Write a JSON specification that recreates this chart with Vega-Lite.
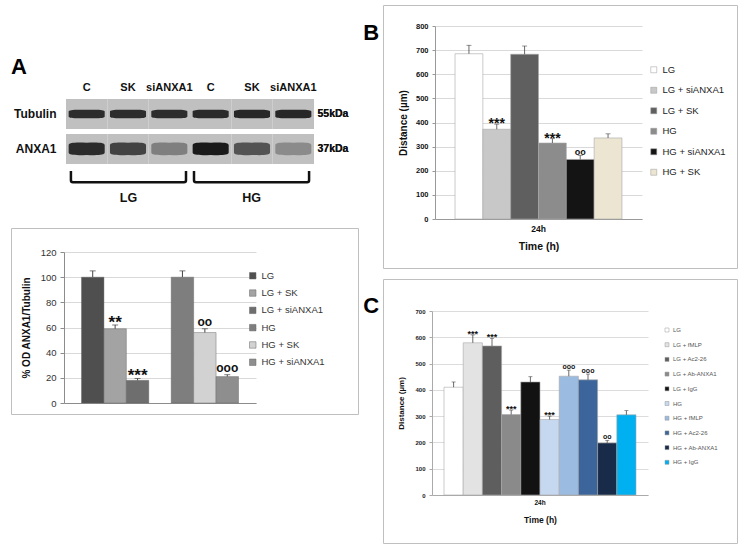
{
  "$schema": "https://vega.github.io/schema/vega-lite/v6.json",
  "background": "white",
  "padding": {"left": 10, "top": 4, "right": 0, "bottom": 0},
  "config": {
    "font": "Liberation Sans",
    "view": {"stroke": "#bfbfbf", "strokeWidth": 1}
  },
  "datasets": {
    "blot": [
      {"lane": "LG|C", "row": "Tubulin", "intensity": 0.85},
      {"lane": "LG|SK", "row": "Tubulin", "intensity": 0.85},
      {"lane": "LG|siANXA1", "row": "Tubulin", "intensity": 0.85},
      {"lane": "HG|C", "row": "Tubulin", "intensity": 0.86},
      {"lane": "HG|SK", "row": "Tubulin", "intensity": 0.88},
      {"lane": "HG|siANXA1", "row": "Tubulin", "intensity": 0.88},
      {"lane": "LG|C", "row": "ANXA1", "intensity": 0.85},
      {"lane": "LG|SK", "row": "ANXA1", "intensity": 0.7},
      {"lane": "LG|siANXA1", "row": "ANXA1", "intensity": 0.35},
      {"lane": "HG|C", "row": "ANXA1", "intensity": 0.97},
      {"lane": "HG|SK", "row": "ANXA1", "intensity": 0.6},
      {"lane": "HG|siANXA1", "row": "ANXA1", "intensity": 0.28}
    ],
    "groups": [{"group": "LG"}, {"group": "HG"}],
    "anxa1": [
      {"series": "LG", "value": 100, "upper": 105, "note": ""},
      {"series": "LG + SK", "value": 59, "upper": 62, "note": "**"},
      {"series": "LG + siANXA1", "value": 18, "upper": 19.5, "note": "***"},
      {"series": "HG", "value": 100, "upper": 105, "note": ""},
      {"series": "HG + SK", "value": 56, "upper": 59, "note": "oo"},
      {"series": "HG + siANXA1", "value": 21, "upper": 22.5, "note": "ooo"}
    ],
    "migB": [
      {"time": "24h", "series": "LG", "value": 685, "upper": 720, "note": ""},
      {"time": "24h", "series": "LG + siANXA1", "value": 372, "upper": 393, "note": "***"},
      {"time": "24h", "series": "LG + SK", "value": 683, "upper": 717, "note": ""},
      {"time": "24h", "series": "HG", "value": 315, "upper": 333, "note": "***"},
      {"time": "24h", "series": "HG + siANXA1", "value": 247, "upper": 264, "note": "oo"},
      {"time": "24h", "series": "HG + SK", "value": 336, "upper": 353, "note": ""}
    ],
    "migC": [
      {"time": "24h", "series": "LG", "value": 410, "upper": 430, "note": ""},
      {"time": "24h", "series": "LG + fMLP", "value": 579, "upper": 609, "note": "***"},
      {"time": "24h", "series": "LG + Ac2-26", "value": 567, "upper": 596, "note": "***"},
      {"time": "24h", "series": "LG + Ab-ANXA1", "value": 306, "upper": 323, "note": "***"},
      {"time": "24h", "series": "LG + IgG", "value": 430, "upper": 450, "note": ""},
      {"time": "24h", "series": "HG", "value": 287, "upper": 300, "note": "***"},
      {"time": "24h", "series": "HG + fMLP", "value": 452, "upper": 475, "note": "ooo"},
      {"time": "24h", "series": "HG + Ac2-26", "value": 438, "upper": 460, "note": "ooo"},
      {"time": "24h", "series": "HG + Ab-ANXA1", "value": 198, "upper": 208, "note": "oo"},
      {"time": "24h", "series": "HG + IgG", "value": 305, "upper": 321, "note": ""}
    ]
  },
  "spacing": 3,
  "resolve": {"scale": {"color": "independent", "xOffset": "independent"}, "legend": {"color": "independent"}},
  "hconcat": [
    {
      "spacing": 7,
      "resolve": {"scale": {"color": "independent"}, "legend": {"color": "independent"}},
      "vconcat": [
        {
          "width": 347,
          "height": 159,
          "view": {"stroke": null},
          "title": {"text": "A", "anchor": "start", "fontSize": 22, "fontWeight": "bold", "offset": -91, "baseline": "alphabetic", "color": "#000"},
          "data": {"name": "blot"},
          "encoding": {
            "x": {"field": "lane", "type": "nominal",
              "scale": {"domain": ["LG|C", "LG|SK", "LG|siANXA1", "HG|C", "HG|SK", "HG|siANXA1"], "range": [55, 303], "paddingInner": 0, "paddingOuter": 0},
              "axis": {"orient": "top", "offset": -94, "title": null, "domain": false, "ticks": false, "labelAngle": 0, "labelExpr": "split(datum.label, '|')[1]", "labelFontSize": 11, "labelFontWeight": "bold", "labelColor": "#111", "labelPadding": 7}}
          },
          "layer": [
            {
              "mark": {"type": "rect", "color": "#c0c0c0"},
              "encoding": {
                "y": {"field": "row", "type": "nominal",
                  "scale": {"domain": ["Tubulin", "ANXA1"], "range": [94, 159], "paddingInner": 0.143, "paddingOuter": 0},
                  "axis": {"orient": "left", "offset": -55, "title": null, "domain": false, "ticks": false, "labelFontSize": 12, "labelFontWeight": "bold", "labelColor": "#111", "labelPadding": 10}}
              }
            },
            {
              "transform": [{"filter": "datum.row == 'Tubulin'"}],
              "mark": {"type": "point", "filled": true, "size": 1300, "opacity": 1, "strokeWidth": 0,
                "shape": "M-1,-0.14C-1,-0.24 -0.6,-0.25 0,-0.23C0.6,-0.25 1,-0.24 1,-0.14L1,0.14C1,0.24 0.6,0.25 0,0.23C-0.6,0.25 -1,0.24 -1,0.14Z"},
              "encoding": {
                "y": {"field": "row", "type": "nominal",
                  "axis": {"orient": "right", "offset": -44, "title": null, "domain": false, "ticks": false, "labelExpr": "datum.label == 'Tubulin' ? '55kDa' : '37kDa'", "labelFontSize": 10.5, "labelFontWeight": "bold", "labelColor": "#111", "labelPadding": 3}},
                "color": {"field": "intensity", "type": "quantitative", "scale": {"domain": [0, 1], "range": ["#c0c0c0", "#161616"]}, "legend": null}
              }
            },
            {
              "transform": [{"filter": "datum.row == 'ANXA1'"}],
              "mark": {"type": "point", "filled": true, "size": 1300, "opacity": 1, "strokeWidth": 0,
                "shape": "M-1,-0.22C-1,-0.36 -0.6,-0.38 0,-0.35C0.6,-0.38 1,-0.36 1,-0.22L1,0.2C1,0.34 0.6,0.36 0,0.33C-0.6,0.36 -1,0.34 -1,0.2Z"},
              "encoding": {
                "y": {"field": "row", "type": "nominal",
                  "axis": {"orient": "right", "offset": -44, "title": null, "domain": false, "ticks": false, "labelExpr": "datum.label == 'Tubulin' ? '55kDa' : '37kDa'", "labelFontSize": 10.5, "labelFontWeight": "bold", "labelColor": "#111", "labelPadding": 3}},
                "color": {"field": "intensity", "type": "quantitative", "legend": null}
              }
            }
          ],
          "resolve": {"axis": {"y": "independent"}}
        },
        {
          "width": 347,
          "height": 49,
          "view": {"stroke": null},
          "data": {"name": "groups"},
          "mark": {"type": "rect", "fillOpacity": 0, "stroke": "#111", "strokeWidth": 2.5, "cornerRadius": 2, "clip": true},
          "encoding": {
            "x": {"field": "group", "type": "nominal",
              "scale": {"domain": ["LG", "HG"], "range": [55, 303], "paddingInner": 0.065, "paddingOuter": 0.04},
              "axis": {"orient": "bottom", "offset": -35, "title": null, "domain": false, "ticks": false, "labelAngle": 0, "labelFontSize": 12.5, "labelFontWeight": "bold", "labelColor": "#111", "labelPadding": 6}},
            "y": {"datum": 0, "type": "quantitative", "scale": {"domain": [-0.15, 1], "range": [13, 0]}, "axis": null},
            "y2": {"datum": 2}
          }
        },
        {
          "width": 347,
          "height": 186,
          "data": {"name": "anxa1"},
          "encoding": {
            "x": {"field": "series", "type": "nominal",
              "scale": {"domain": ["LG", "LG + SK", "LG + siANXA1", "gap", "HG", "HG + SK", "HG + siANXA1"], "range": [53, 245], "paddingInner": 0, "paddingOuter": 0.78},
              "axis": {"offset": -11, "labels": false, "ticks": false, "title": null, "domainColor": "#8c8c8c", "grid": false}},
            "y": {"field": "value", "type": "quantitative",
              "scale": {"domain": [0, 120], "range": [175, 24], "nice": false},
              "axis": {"offset": -53, "values": [0, 20, 40, 60, 80, 100, 120], "title": "% OD ANXA1/Tubulin", "titleFontSize": 10, "titleFontWeight": "bold", "titleColor": "#111", "titlePadding": 9, "labelFontSize": 9.5, "labelColor": "#333", "labelPadding": 4, "tickSize": 4, "tickColor": "#8c8c8c", "domainColor": "#8c8c8c", "grid": true, "gridColor": "#d9d9d9"}}
          },
          "layer": [
            {
              "mark": {"type": "bar", "stroke": "#5a5a5a", "strokeWidth": 0.4},
              "encoding": {
                "color": {"field": "series", "type": "nominal",
                  "scale": {"domain": ["LG", "LG + SK", "LG + siANXA1", "HG", "HG + SK", "HG + siANXA1"], "range": ["#4f4f4f", "#a3a3a3", "#6e6e6e", "#7e7e7e", "#d2d2d2", "#8e8e8e"]},
                  "legend": {"orient": "none", "legendX": 237, "legendY": 43, "title": null, "symbolType": "square", "symbolSize": 42, "labelFontSize": 9.5, "labelColor": "#333", "rowPadding": 6.3, "padding": 0, "symbolStrokeColor": "#666", "symbolStrokeWidth": 0.5}}
              }
            },
            {
              "mark": {"type": "rule", "color": "#444", "strokeWidth": 1},
              "encoding": {"y2": {"field": "upper"}}
            },
            {
              "mark": {"type": "tick", "orient": "horizontal", "size": 6, "thickness": 1, "color": "#444"},
              "encoding": {"y": {"field": "upper", "type": "quantitative",
                "axis": {"offset": -53, "values": [0, 20, 40, 60, 80, 100, 120], "title": "% OD ANXA1/Tubulin", "titleFontSize": 10, "titleFontWeight": "bold", "titleColor": "#111", "titlePadding": 9, "labelFontSize": 9.5, "labelColor": "#333", "labelPadding": 4, "tickSize": 4, "tickColor": "#8c8c8c", "domainColor": "#8c8c8c", "grid": true, "gridColor": "#d9d9d9"}}}
            },
            {
              "transform": [{"filter": "indexof(datum.note, '*') >= 0"}],
              "mark": {"type": "text", "fontSize": 17, "fontWeight": "bold", "baseline": "alphabetic", "dy": 3, "color": "#111"},
              "encoding": {"y": {"field": "upper", "type": "quantitative",
                "axis": {"offset": -53, "values": [0, 20, 40, 60, 80, 100, 120], "title": "% OD ANXA1/Tubulin", "titleFontSize": 10, "titleFontWeight": "bold", "titleColor": "#111", "titlePadding": 9, "labelFontSize": 9.5, "labelColor": "#333", "labelPadding": 4, "tickSize": 4, "tickColor": "#8c8c8c", "domainColor": "#8c8c8c", "grid": true, "gridColor": "#d9d9d9"}},
                "text": {"field": "note"}}
            },
            {
              "transform": [{"filter": "indexof(datum.note, 'o') >= 0"}],
              "mark": {"type": "text", "fontSize": 12, "fontWeight": "bold", "baseline": "alphabetic", "dy": -3, "color": "#111"},
              "encoding": {"y": {"field": "upper", "type": "quantitative",
                "axis": {"offset": -53, "values": [0, 20, 40, 60, 80, 100, 120], "title": "% OD ANXA1/Tubulin", "titleFontSize": 10, "titleFontWeight": "bold", "titleColor": "#111", "titlePadding": 9, "labelFontSize": 9.5, "labelColor": "#333", "labelPadding": 4, "tickSize": 4, "tickColor": "#8c8c8c", "domainColor": "#8c8c8c", "grid": true, "gridColor": "#d9d9d9"}},
                "text": {"field": "note"}}
            }
          ]
        }
      ]
    },
    {
      "spacing": 9,
      "resolve": {"scale": {"color": "independent", "xOffset": "independent"}, "legend": {"color": "independent"}},
      "vconcat": [
        {
          "width": 354,
          "height": 263,
          "title": {"text": "B", "orient": "left", "anchor": "end", "angle": 0, "fontSize": 22, "fontWeight": "bold", "offset": -12, "baseline": "top", "align": "right", "dy": 18, "color": "#000"},
          "data": {"name": "migB"},
          "encoding": {
            "x": {"field": "time", "type": "nominal",
              "scale": {"range": [52, 259], "paddingInner": 0, "paddingOuter": 0.12},
              "axis": {"offset": -49, "title": "Time (h)", "labelAngle": 0, "labelFontSize": 8.5, "labelFontWeight": "bold", "labelColor": "#111", "labelPadding": 5, "ticks": false, "domainColor": "#999", "titleFontSize": 10.5, "titleFontWeight": "bold", "titleColor": "#111", "titlePadding": 9, "grid": false}},
            "xOffset": {"field": "series", "type": "nominal",
              "scale": {"domain": ["LG", "LG + siANXA1", "LG + SK", "HG", "HG + siANXA1", "HG + SK"], "paddingInner": 0, "paddingOuter": 0}},
            "y": {"field": "value", "type": "quantitative",
              "scale": {"domain": [0, 800], "range": [214, 21], "nice": false},
              "axis": {"offset": -52, "values": [0, 100, 200, 300, 400, 500, 600, 700, 800], "title": "Distance (µm)", "titleFontSize": 10, "titleFontWeight": "bold", "titleColor": "#111", "titlePadding": 7, "labelFontSize": 7.5, "labelFontWeight": "bold", "labelColor": "#111", "labelPadding": 4, "tickSize": 3, "tickColor": "#999", "domainColor": "#999", "grid": true, "gridColor": "#d9d9d9"}}
          },
          "layer": [
            {
              "mark": {"type": "bar", "stroke": "#a8a8a8", "strokeWidth": 0.6},
              "encoding": {
                "color": {"field": "series", "type": "nominal",
                  "scale": {"domain": ["LG", "LG + siANXA1", "LG + SK", "HG", "HG + siANXA1", "HG + SK"], "range": ["#ffffff", "#c8c8c8", "#5f5f5f", "#8c8c8c", "#141414", "#ebe5d1"]},
                  "legend": {"orient": "none", "legendX": 266, "legendY": 60, "title": null, "symbolType": "square", "symbolSize": 36, "labelFontSize": 9.5, "labelColor": "#222", "rowPadding": 9.5, "padding": 0, "symbolStrokeColor": "#999", "symbolStrokeWidth": 0.5}}
              }
            },
            {
              "mark": {"type": "rule", "color": "#444", "strokeWidth": 0.8},
              "encoding": {"y2": {"field": "upper"}}
            },
            {
              "mark": {"type": "tick", "orient": "horizontal", "size": 5, "thickness": 0.8, "color": "#444"},
              "encoding": {"y": {"field": "upper", "type": "quantitative",
                "axis": {"offset": -52, "values": [0, 100, 200, 300, 400, 500, 600, 700, 800], "title": "Distance (µm)", "titleFontSize": 10, "titleFontWeight": "bold", "titleColor": "#111", "titlePadding": 7, "labelFontSize": 7.5, "labelFontWeight": "bold", "labelColor": "#111", "labelPadding": 4, "tickSize": 3, "tickColor": "#999", "domainColor": "#999", "grid": true, "gridColor": "#d9d9d9"}}}
            },
            {
              "transform": [{"filter": "indexof(datum.note, '*') >= 0"}],
              "mark": {"type": "text", "fontSize": 14, "fontWeight": "bold", "baseline": "alphabetic", "dy": 4, "color": "#111"},
              "encoding": {"y": {"field": "upper", "type": "quantitative",
                "axis": {"offset": -52, "values": [0, 100, 200, 300, 400, 500, 600, 700, 800], "title": "Distance (µm)", "titleFontSize": 10, "titleFontWeight": "bold", "titleColor": "#111", "titlePadding": 7, "labelFontSize": 7.5, "labelFontWeight": "bold", "labelColor": "#111", "labelPadding": 4, "tickSize": 3, "tickColor": "#999", "domainColor": "#999", "grid": true, "gridColor": "#d9d9d9"}},
                "text": {"field": "note"}}
            },
            {
              "transform": [{"filter": "indexof(datum.note, 'o') >= 0"}],
              "mark": {"type": "text", "fontSize": 9, "fontWeight": "bold", "baseline": "alphabetic", "dy": 0, "color": "#111"},
              "encoding": {"y": {"field": "upper", "type": "quantitative",
                "axis": {"offset": -52, "values": [0, 100, 200, 300, 400, 500, 600, 700, 800], "title": "Distance (µm)", "titleFontSize": 10, "titleFontWeight": "bold", "titleColor": "#111", "titlePadding": 7, "labelFontSize": 7.5, "labelFontWeight": "bold", "labelColor": "#111", "labelPadding": 4, "tickSize": 3, "tickColor": "#999", "domainColor": "#999", "grid": true, "gridColor": "#d9d9d9"}},
                "text": {"field": "note"}}
            }
          ]
        },
        {
          "width": 354,
          "height": 264,
          "title": {"text": "C", "orient": "left", "anchor": "end", "angle": 0, "fontSize": 22, "fontWeight": "bold", "offset": -12, "baseline": "top", "align": "right", "dy": 17, "color": "#000"},
          "data": {"name": "migC"},
          "encoding": {
            "x": {"field": "time", "type": "nominal",
              "scale": {"range": [49, 265], "paddingInner": 0, "paddingOuter": 0.0625},
              "axis": {"offset": -48, "title": "Time (h)", "labelAngle": 0, "labelFontSize": 6.5, "labelFontWeight": "bold", "labelColor": "#111", "labelPadding": 4, "ticks": false, "domainColor": "#aaa", "titleFontSize": 8.5, "titleFontWeight": "bold", "titleColor": "#111", "titlePadding": 10, "grid": false}},
            "xOffset": {"field": "series", "type": "nominal",
              "scale": {"domain": ["LG", "LG + fMLP", "LG + Ac2-26", "LG + Ab-ANXA1", "LG + IgG", "HG", "HG + fMLP", "HG + Ac2-26", "HG + Ab-ANXA1", "HG + IgG"], "paddingInner": 0, "paddingOuter": 0}},
            "y": {"field": "value", "type": "quantitative",
              "scale": {"domain": [0, 700], "range": [216, 32], "nice": false},
              "axis": {"offset": -49, "values": [0, 100, 200, 300, 400, 500, 600, 700], "title": "Distance (µm)", "titleFontSize": 8, "titleFontWeight": "bold", "titleColor": "#111", "titlePadding": 9, "labelFontSize": 6, "labelFontWeight": "bold", "labelColor": "#222", "labelPadding": 4, "tickSize": 3, "tickColor": "#aaa", "domainColor": "#aaa", "grid": true, "gridColor": "#dcdcdc"}}
          },
          "layer": [
            {
              "mark": {"type": "bar", "stroke": "#a8a8a8", "strokeWidth": 0.6},
              "encoding": {
                "color": {"field": "series", "type": "nominal",
                  "scale": {"domain": ["LG", "LG + fMLP", "LG + Ac2-26", "LG + Ab-ANXA1", "LG + IgG", "HG", "HG + fMLP", "HG + Ac2-26", "HG + Ab-ANXA1", "HG + IgG"], "range": ["#ffffff", "#e3e3e3", "#5e5e5e", "#8a8a8a", "#121212", "#c6d8ef", "#9bbbe0", "#3c659b", "#182b48", "#00b0f0"]},
                  "legend": {"orient": "none", "legendX": 281, "legendY": 48, "title": null, "symbolType": "square", "symbolSize": 16, "labelFontSize": 6, "labelColor": "#555", "rowPadding": 8.7, "padding": 0, "symbolStrokeColor": "#999", "symbolStrokeWidth": 0.5, "labelOffset": 3}}
              }
            },
            {
              "mark": {"type": "rule", "color": "#444", "strokeWidth": 0.8},
              "encoding": {"y2": {"field": "upper"}}
            },
            {
              "mark": {"type": "tick", "orient": "horizontal", "size": 4, "thickness": 0.8, "color": "#444"},
              "encoding": {"y": {"field": "upper", "type": "quantitative",
                "axis": {"offset": -49, "values": [0, 100, 200, 300, 400, 500, 600, 700], "title": "Distance (µm)", "titleFontSize": 8, "titleFontWeight": "bold", "titleColor": "#111", "titlePadding": 9, "labelFontSize": 6, "labelFontWeight": "bold", "labelColor": "#222", "labelPadding": 4, "tickSize": 3, "tickColor": "#aaa", "domainColor": "#aaa", "grid": true, "gridColor": "#dcdcdc"}}}
            },
            {
              "transform": [{"filter": "indexof(datum.note, '*') >= 0"}],
              "mark": {"type": "text", "fontSize": 9, "fontWeight": "bold", "baseline": "alphabetic", "dy": 2, "color": "#111"},
              "encoding": {"y": {"field": "upper", "type": "quantitative",
                "axis": {"offset": -49, "values": [0, 100, 200, 300, 400, 500, 600, 700], "title": "Distance (µm)", "titleFontSize": 8, "titleFontWeight": "bold", "titleColor": "#111", "titlePadding": 9, "labelFontSize": 6, "labelFontWeight": "bold", "labelColor": "#222", "labelPadding": 4, "tickSize": 3, "tickColor": "#aaa", "domainColor": "#aaa", "grid": true, "gridColor": "#dcdcdc"}},
                "text": {"field": "note"}}
            },
            {
              "transform": [{"filter": "indexof(datum.note, 'o') >= 0"}],
              "mark": {"type": "text", "fontSize": 7, "fontWeight": "bold", "baseline": "alphabetic", "dy": -1, "color": "#111"},
              "encoding": {"y": {"field": "upper", "type": "quantitative",
                "axis": {"offset": -49, "values": [0, 100, 200, 300, 400, 500, 600, 700], "title": "Distance (µm)", "titleFontSize": 8, "titleFontWeight": "bold", "titleColor": "#111", "titlePadding": 9, "labelFontSize": 6, "labelFontWeight": "bold", "labelColor": "#222", "labelPadding": 4, "tickSize": 3, "tickColor": "#aaa", "domainColor": "#aaa", "grid": true, "gridColor": "#dcdcdc"}},
                "text": {"field": "note"}}
            }
          ]
        }
      ]
    }
  ]
}
